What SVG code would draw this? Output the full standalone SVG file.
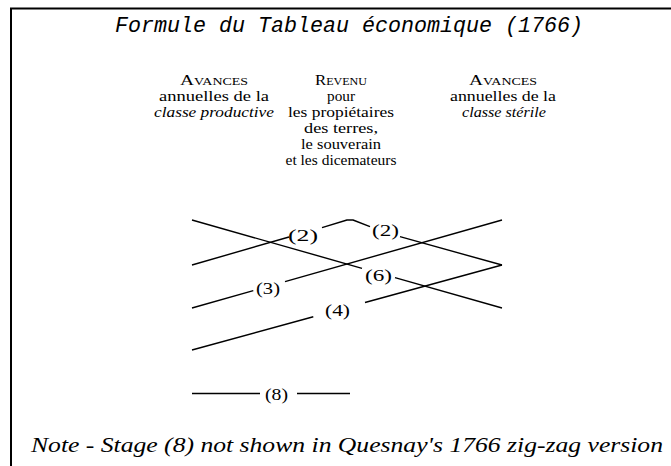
<svg xmlns="http://www.w3.org/2000/svg" width="671" height="466" viewBox="0 0 671 466">
<style>
.frame{stroke:#000;stroke-width:2;fill:none}
.ln{stroke:#000;stroke-width:1.4;fill:none;stroke-linejoin:round}
.hd{font-family:"Liberation Serif","Times New Roman",serif;font-size:14px;fill:#000;text-anchor:middle}
.it{font-style:italic}
.big{font-size:14px}
.sm{font-size:10px}
.lbl{font-family:"Liberation Serif","Times New Roman",serif;font-size:17px;fill:#000}
.title{font-family:"Liberation Mono","Courier New",monospace;font-style:italic;font-size:21.7px;fill:#000}
.note{font-family:"Liberation Serif","Times New Roman",serif;font-style:italic;font-size:22px;fill:#000}
</style>
<rect width="671" height="466" fill="#fff"/>
<g id="frame">
<path class="frame" d="M11 466 V8.5 H671"/>
</g>
<g id="title">
<text class="title" x="115" y="32" textLength="468" lengthAdjust="spacingAndGlyphs">Formule du Tableau économique (1766)</text>
</g>
<g id="col-productive">
<text class="hd" x="214" y="85" textLength="68" lengthAdjust="spacingAndGlyphs"><tspan class="big">A</tspan><tspan class="sm">VANCES</tspan></text>
<text class="hd" x="214" y="101" textLength="110" lengthAdjust="spacingAndGlyphs">annuelles de la</text>
<text class="hd it" x="214" y="117" textLength="120" lengthAdjust="spacingAndGlyphs">classe productive</text>
</g>
<g id="col-revenu">
<text class="hd" x="341" y="85" textLength="52" lengthAdjust="spacingAndGlyphs"><tspan class="big">R</tspan><tspan class="sm">EVENU</tspan></text>
<text class="hd" x="341" y="101" textLength="28" lengthAdjust="spacingAndGlyphs">pour</text>
<text class="hd" x="341" y="117" textLength="106" lengthAdjust="spacingAndGlyphs">les propiétaires</text>
<text class="hd" x="341" y="133" textLength="74" lengthAdjust="spacingAndGlyphs">des terres,</text>
<text class="hd" x="341" y="149" textLength="80" lengthAdjust="spacingAndGlyphs">le souverain</text>
<text class="hd" x="341" y="165" textLength="111" lengthAdjust="spacingAndGlyphs">et les dicemateurs</text>
</g>
<g id="col-sterile">
<text class="hd" x="503" y="85" textLength="68" lengthAdjust="spacingAndGlyphs"><tspan class="big">A</tspan><tspan class="sm">VANCES</tspan></text>
<text class="hd" x="503" y="101" textLength="106" lengthAdjust="spacingAndGlyphs">annuelles de la</text>
<text class="hd it" x="504" y="117" textLength="84" lengthAdjust="spacingAndGlyphs">classe stérile</text>
</g>
<g id="connectors">
<path class="ln" d="M192 220 L362 268.3 M395 277.6 L502 308"/>
<path class="ln" d="M192 265 L289 237 M322 227.7 L347 220 L353 220 L370 226.7 M400 236.7 L502 265"/>
<path class="ln" d="M502 220 L285 281.6 M253.3 290.7 L192 308"/>
<path class="ln" d="M502 265 L365 302.5 M313.3 316.8 L192 350"/>
<path class="ln" d="M192 393.5 H260 M297 393.5 H350"/>
</g>
<g id="labels">
<text class="lbl" x="288" y="241" textLength="30" lengthAdjust="spacingAndGlyphs">(2)</text>
<text class="lbl" x="372" y="236" textLength="27" lengthAdjust="spacingAndGlyphs">(2)</text>
<text class="lbl" x="365" y="281" textLength="27" lengthAdjust="spacingAndGlyphs">(6)</text>
<text class="lbl" x="256" y="294" textLength="24" lengthAdjust="spacingAndGlyphs">(3)</text>
<text class="lbl" x="325" y="316" textLength="25" lengthAdjust="spacingAndGlyphs">(4)</text>
<text class="lbl" x="265" y="400" textLength="23" lengthAdjust="spacingAndGlyphs">(8)</text>
</g>
<g id="note">
<text class="note" x="31" y="452" textLength="632" lengthAdjust="spacingAndGlyphs">Note - Stage (8) not shown in Quesnay's 1766 zig-zag version</text>
</g>
</svg>
